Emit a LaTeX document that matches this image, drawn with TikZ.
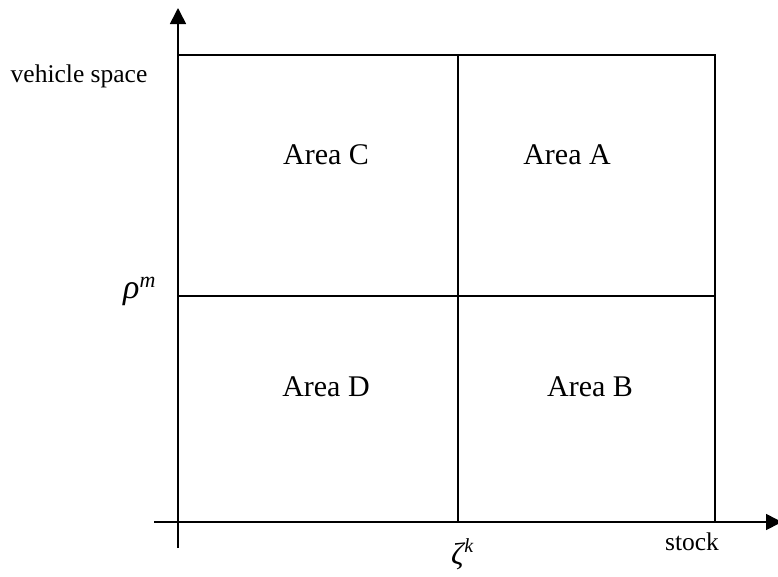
\documentclass[tikz,border=0pt]{standalone}
\usepackage{fontspec}
\setmainfont{Liberation Serif}
\usetikzlibrary{arrows.meta}
\tikzset{
  axis/.style={line width=1.6pt, -{Triangle[length=16pt,width=16pt]}},
  grid line/.style={line width=1.6pt},
  area/.style={font=\fontsize{30}{36}\selectfont, anchor=base, inner sep=0pt},
  axlabel/.style={font=\fontsize{25.5}{30}\selectfont, anchor=base, inner sep=0pt},
  symlabel/.style={font=\fontsize{34}{40}\selectfont\itshape, anchor=base west, inner sep=0pt}
}
\begin{document}
\begin{tikzpicture}[x=1pt,y=-1pt]
\useasboundingbox (0,0) rectangle (778,576);
% axes
\coordinate (yb) at (178,548);
\coordinate (yt) at (178,8);
\coordinate (xl) at (154,522);
\coordinate (xr) at (782,522);
\draw[axis] (yb) -- (yt);
\draw[axis] (xl) -- (xr);
% box
\coordinate (tl) at (178,55);
\coordinate (tr) at (715,55);
\coordinate (br) at (715,522);
\coordinate (tm) at (458,55);
\coordinate (bm) at (458,522);
\coordinate (ml) at (178,296);
\coordinate (mr) at (715,296);
\draw[grid line] (tl) -- (tr) -- (br);
\draw[grid line] (tm) -- (bm);
\draw[grid line] (ml) -- (mr);
% area labels
\node[area] (C) at (326,164) {Area C};
\node[area] (A) at (567,164) {Area A};
\node[area] (D) at (326,396) {Area D};
\node[area] (B) at (590,396) {Area B};
% axis labels
\node[axlabel] (vs) at (79,82) {vehicle space};
\node[axlabel] (st) at (692,550) {stock};
\node[symlabel] (rho) at (123,298) {ρ\raisebox{11pt}{\fontsize{22}{26}\selectfont m}};
\node[symlabel, font=\fontsize{31}{36}\selectfont\itshape] (zeta) at (451,564) {ζ\hspace{0.5pt}\raisebox{12pt}{\fontsize{20}{24}\selectfont k}};
\end{tikzpicture}
\end{document}
